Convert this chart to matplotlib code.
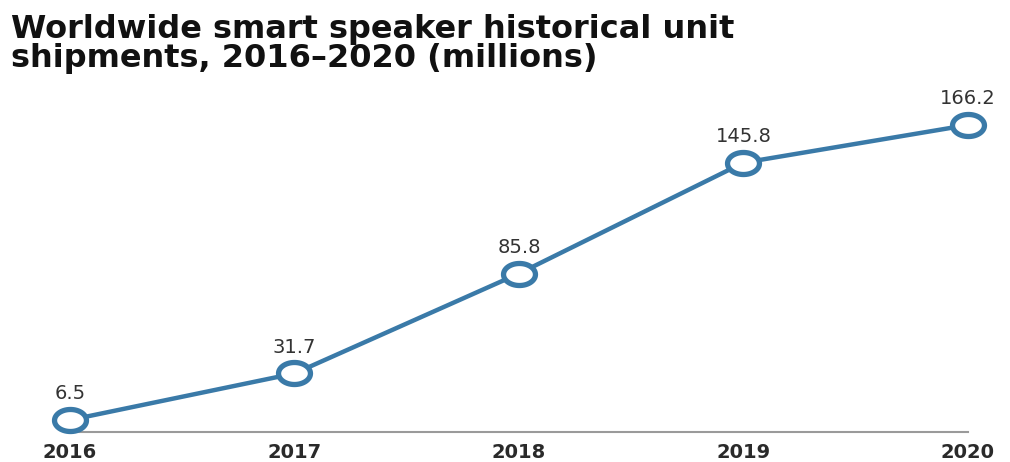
import numpy as np
import matplotlib.pyplot as plt
from matplotlib.path import Path

years = [2016, 2017, 2018, 2019, 2020]
shipments = [6.5, 31.7, 85.8, 145.8, 166.2]
value_labels = ["6.5", "31.7", "85.8", "145.8", "166.2"]

line_color = "#3a7aa8"

# a slightly wide ring marker
t = np.linspace(0, 2 * np.pi, 60)
ring = Path(np.column_stack([1.45 * np.cos(t), np.sin(t)]), closed=True)

fig = plt.figure(figsize=(10.1, 4.62), dpi=100)
ax = fig.add_axes([0.0693, 0.0649, 0.8891, 0.7197])

ax.plot(years, shipments, color=line_color, lw=3.2, marker=ring, ms=23,
        mfc="white", mec=line_color, mew=3.8, clip_on=False, zorder=3)

for x, y, s in zip(years, shipments, value_labels):
    ax.annotate(s, (x, y), xytext=(0, 12), textcoords="offset points",
                ha="center", va="bottom", fontsize=14, color="#333333")

ax.set_xlim(2016, 2020)
ax.set_ylim(0, 180)
ax.set_xticks(years)
ax.set_xticklabels([str(y) for y in years], fontsize=14, fontweight="bold",
                   color="#2a2a2a")
ax.tick_params(axis="x", length=0, pad=8)
ax.set_yticks([])
for side in ["top", "left", "right"]:
    ax.spines[side].set_visible(False)
ax.spines["bottom"].set_color("#9a9a9a")
ax.spines["bottom"].set_linewidth(1.5)

fig.text(0.011, 0.97, "Worldwide smart speaker historical unit\nshipments, 2016\u20132020 (millions)",
         ha="left", va="top", fontsize=23, fontweight="bold", color="#111111",
         linespacing=0.92)

fig.savefig("out.png", dpi=100, facecolor="white")
